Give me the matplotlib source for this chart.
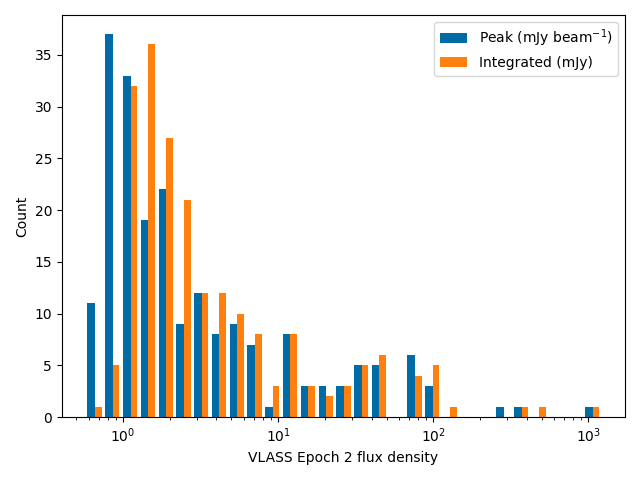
import numpy as np
import matplotlib
matplotlib.use("Agg")
import matplotlib.pyplot as plt

# Histogram counts per log-spaced bin (29 bins)
peak_counts = [11, 37, 33, 19, 22, 9, 12, 8, 9, 7, 1, 8, 3, 3, 3, 5, 5, 0, 6, 3,
               0, 0, 0, 1, 1, 0, 0, 0, 1]
int_counts = [1, 5, 32, 36, 27, 21, 12, 12, 10, 8, 3, 8, 3, 2, 3, 5, 6, 0, 4, 5,
              1, 0, 0, 0, 1, 1, 0, 0, 1]
bin_lo = 0.573
bin_hi = 1205.0
n_bins = 29
labels = ["Peak (mJy beam$^{-1}$)", "Integrated (mJy)"]
colors = ["#006BA4", "#FF800E"]

edges = np.logspace(np.log10(bin_lo), np.log10(bin_hi), n_bins + 1)
centers = np.sqrt(edges[:-1] * edges[1:])

fig, ax = plt.subplots(figsize=(6.4, 4.8), dpi=100)
ax.hist([centers, centers], bins=edges, weights=[peak_counts, int_counts],
        color=colors, label=labels)
ax.set_xscale("log")
ax.set_xlabel("VLASS Epoch 2 flux density")
ax.set_ylabel("Count")
ax.legend(loc="upper right")
fig.tight_layout()
fig.savefig("out.png", dpi=100)
